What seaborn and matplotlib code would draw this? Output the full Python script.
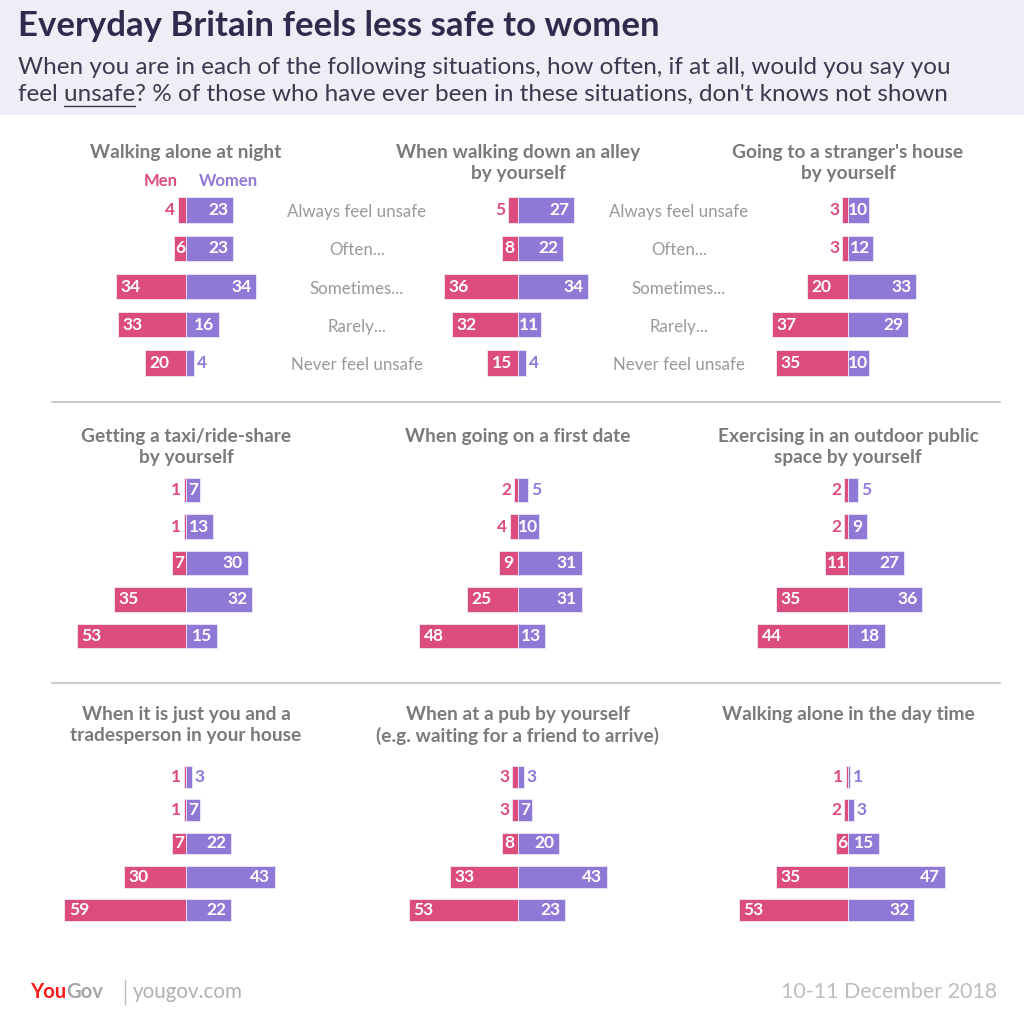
import seaborn as sns
import matplotlib.pyplot as plt
import pandas as pd
from matplotlib.patches import Rectangle
from matplotlib.lines import Line2D

FREQ = ['Always feel unsafe', 'Often...', 'Sometimes...', 'Rarely...', 'Never feel unsafe']

TITLES = [
    'Walking alone at night',
    'When walking down an alley\nby yourself',
    "Going to a stranger's house\nby yourself",
    'Getting a taxi/ride-share\nby yourself',
    'When going on a first date',
    'Exercising in an outdoor public\nspace by yourself',
    'When it is just you and a\ntradesperson in your house',
    'When at a pub by yourself\n(e.g. waiting for a friend to arrive)',
    'Walking alone in the day time',
]

MEN = [
    [4, 6, 34, 33, 20],
    [5, 8, 36, 32, 15],
    [3, 3, 20, 37, 35],
    [1, 1, 7, 35, 53],
    [2, 4, 9, 25, 48],
    [2, 2, 11, 35, 44],
    [1, 1, 7, 30, 59],
    [3, 3, 8, 33, 53],
    [1, 2, 6, 35, 53],
]

WOMEN = [
    [23, 23, 34, 16, 4],
    [27, 22, 34, 11, 4],
    [10, 12, 33, 29, 10],
    [7, 13, 30, 32, 15],
    [5, 10, 31, 31, 13],
    [5, 9, 27, 36, 18],
    [3, 7, 22, 43, 22],
    [3, 7, 20, 43, 23],
    [1, 3, 15, 47, 32],
]

PINK = '#dc4c7d'
PURPLE = '#8f79d7'
GREY_TITLE = '#7a7a7a'
GREY_LABEL = '#999999'

W = H = 1024
PX_PER_UNIT = 2.06
HALF = 62

col_x = [186, 518, 848]
row_bars = [(210, 363), (490, 636), (777, 910)]
row_title_top = [144, 428, 706]

sns.set_theme(style='white')
plt.rcParams['font.family'] = ['Lato', 'DejaVu Sans']

fig = plt.figure(figsize=(10.24, 10.24), dpi=100)
fig.patch.set_facecolor('white')


def fx(x):
    return x / W


def fy(y):
    return 1 - y / H


# header band
fig.patches.append(Rectangle((0, fy(115)), 1, 115 / H, transform=fig.transFigure,
                             facecolor='#efedf5', edgecolor='none', zorder=0))
fig.text(fx(18), fy(26), 'Everyday Britain feels less safe to women', fontsize=25,
         fontweight='bold', color='#2e2b4d', va='center', ha='left')
sub_kw = dict(fontsize=17.5, color='#3b3950', va='center', ha='left')
fig.text(fx(18), fy(67), 'When you are in each of the following situations, how often, if at all, would you say you', **sub_kw)
fig.text(fx(18), fy(94), "feel unsafe? % of those who have ever been in these situations, don't knows not shown", **sub_kw)

# underline "unsafe"
renderer = fig.canvas.get_renderer()
probe = fig.text(fx(18), fy(94), 'feel unsafe', **sub_kw)
probe2 = fig.text(fx(18), fy(94), 'unsafe', **sub_kw)
bb = probe.get_window_extent(renderer)
bw = probe2.get_window_extent(renderer).width
probe.remove()
probe2.remove()
x_end = bb.x1 / W
x_start = (bb.x1 - bw) / W
fig.lines.append(Line2D([x_start, x_end], [fy(106), fy(106)], transform=fig.transFigure,
                        color='#3b3950', lw=1))

# separators
for ys in (402, 683):
    fig.lines.append(Line2D([fx(52), fx(1000)], [fy(ys), fy(ys)], transform=fig.transFigure,
                            color='#cccccc', lw=1.5))

for i in range(9):
    r, c = divmod(i, 3)
    top_c, bot_c = row_bars[r]
    step = (bot_c - top_c) / 4
    ax_top = top_c - step / 2
    ax_h = step * 5
    ax_w = 2 * HALF * PX_PER_UNIT
    ax = fig.add_axes([fx(col_x[c] - ax_w / 2), fy(ax_top + ax_h), ax_w / W, ax_h / H])

    men = MEN[i]
    women = WOMEN[i]
    df = pd.DataFrame({
        'freq': FREQ * 2,
        'value': [-v for v in men] + women,
        'gender': ['Men'] * 5 + ['Women'] * 5,
    })
    sns.barplot(data=df, x='value', y='freq', hue='gender', orient='h', dodge=False,
                order=FREQ, palette={'Men': PINK, 'Women': PURPLE}, width=0.66,
                saturation=1, edgecolor='#efe8fa', linewidth=0.6, legend=False, ax=ax)
    ax.set_xlim(-HALF, HALF)
    ax.set_ylim(4.5, -0.5)
    ax.axis('off')

    lab_kw = dict(fontsize=12.5, fontweight='bold', va='center')
    for j in range(5):
        m = men[j]
        if m >= 6:
            if m >= 14:
                ax.text(-m + 2.3, j, str(m), color='white', ha='left', **lab_kw)
            else:
                ax.text(-m / 2, j, str(m), color='white', ha='center', **lab_kw)
        else:
            ax.text(-m - 1.3, j, str(m), color=PINK, ha='right', **lab_kw)
        w = women[j]
        if w >= 6:
            if w >= 14:
                ax.text(w - 2.3, j, str(w), color='white', ha='right', **lab_kw)
            else:
                ax.text(w / 2, j, str(w), color='white', ha='center', **lab_kw)
        else:
            ax.text(w + 1.3, j, str(w), color=PURPLE, ha='left', **lab_kw)

    fig.text(fx(col_x[c]), fy(row_title_top[r]), TITLES[i], fontsize=13.8, fontweight='bold',
             color=GREY_TITLE, ha='center', va='top', linespacing=1.28)

# legend of first panel
fig.text(fx(161), fy(181), 'Men', fontsize=12, fontweight='bold', color=PINK, ha='center', va='center')
fig.text(fx(228), fy(181), 'Women', fontsize=12, fontweight='bold', color=PURPLE, ha='center', va='center')

# frequency labels between columns
top_c, bot_c = row_bars[0]
step = (bot_c - top_c) / 4
for lx in (357, 679):
    for j, f in enumerate(FREQ):
        fig.text(fx(lx), fy(top_c + j * step + 2), f, fontsize=12.2, color=GREY_LABEL,
                 ha='center', va='center')

# footer
t_you = fig.text(fx(30), fy(992), 'You', fontsize=14.6, fontweight='bold', color='#ff1a1a',
                 ha='left', va='center')
bb_you = t_you.get_window_extent(renderer)
fig.text(bb_you.x1 / W, fy(992), 'Gov', fontsize=14.6, fontweight='bold', color='#a6a6a6',
         ha='left', va='center')
fig.lines.append(Line2D([fx(125), fx(125)], [fy(980), fy(1004)], transform=fig.transFigure,
                        color='#bbbbbb', lw=1))
fig.text(fx(133), fy(992), 'yougov.com', fontsize=14.8, color='#b0b0b0', ha='left', va='center')
fig.text(fx(997), fy(992), '10-11 December 2018', fontsize=15.4, color='#bdbdbd',
         ha='right', va='center')

fig.savefig('out.png', dpi=100)
